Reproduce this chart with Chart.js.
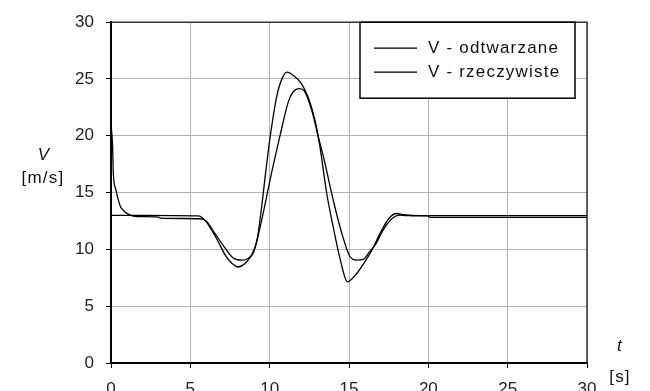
<!DOCTYPE html>
<html>
<head>
<meta charset="utf-8">
<script src="https://cdn.jsdelivr.net/npm/chart.js@4/dist/chart.umd.min.js"></script>
<style>
  html, body { margin: 0; padding: 0; background: #fff; }
  #wrap { width: 650px; height: 391px; }
</style>
</head>
<body>
<div id="wrap"><canvas id="speedChart" width="650" height="391"></canvas></div>
<script>
// V - odtwarzane (reconstructed speed)
const tOdtw = [0, 0.03, 0.1, 0.15, 0.3, 0.45, 0.6, 0.8, 1.0, 1.4, 2.0, 3.0, 3.1, 4.5, 5.6, 6.0, 6.55, 7.2, 7.7, 8.25, 8.65, 9.0, 9.5, 10.1, 10.65, 11.2, 11.5, 11.85, 12.15, 12.65, 13.05, 13.45, 13.8, 14.1, 14.55, 15.05, 15.5, 15.9, 16.3, 16.65, 17.15, 17.7, 18.2, 18.6, 20.0, 20.1, 30];
const vOdtw = [0, 20.6, 19.0, 16.6, 15.3, 14.4, 13.75, 13.4, 13.17, 12.93, 12.88, 12.85, 12.75, 12.72, 12.7, 12.5, 11.4, 10.1, 9.25, 9.05, 9.2, 9.8, 12.6, 16.6, 20.0, 23.1, 23.9, 24.15, 24.0, 22.25, 20.0, 17.8, 15.6, 13.8, 11.4, 9.4, 9.06, 9.12, 9.8, 10.4, 11.7, 12.7, 13.02, 12.98, 12.95, 12.82, 12.82];

// V - rzeczywiste (actual speed)
const tRzecz = [0, 2, 5.5, 5.9, 6.35, 6.75, 7.2, 7.6, 8.0, 8.45, 8.85, 9.2, 9.5, 9.75, 10.0, 10.45, 10.8, 11.1, 11.5, 12.0, 12.45, 12.85, 13.15, 13.6, 14.0, 14.45, 14.9, 15.5, 16.0, 16.45, 16.95, 17.5, 18.0, 18.45, 19.5, 30];
const vRzecz = [13.0, 13.0, 12.95, 12.6, 11.7, 10.7, 9.5, 8.8, 8.45, 8.75, 9.5, 10.8, 13.8, 16.8, 19.6, 23.5, 25.1, 25.6, 25.3, 24.6, 23.3, 21.4, 19.2, 14.9, 12.0, 9.1, 7.15, 7.9, 8.9, 9.95, 11.4, 12.7, 13.16, 13.05, 12.97, 12.97];

const labels = ["V - odtwarzane", "V - rzeczywiste"];
const axisMin = 0;
const axisMax = 30;
const axisStep = 5;

const toPoints = (ts, vs) => ts.map((t, i) => ({ x: t, y: vs[i] }));

// legend box, axis titles and the plot frame are drawn by hand
const extras = {
    id: "extras",
    afterDraw(chart) {
        const ctx = chart.ctx;
        const area = chart.chartArea;
        ctx.save();

        // top + right frame
        ctx.strokeStyle = "#333";
        ctx.lineWidth = 1.5;
        ctx.beginPath();
        ctx.moveTo(area.left, area.top);
        ctx.lineTo(area.right, area.top);
        ctx.lineTo(area.right, area.bottom);
        ctx.stroke();

        // legend
        const bx = 360, by = area.top, bw = 215, bh = 76;
        ctx.fillStyle = "#fff";
        ctx.fillRect(bx, by, bw, bh);
        ctx.strokeStyle = "#000";
        ctx.lineWidth = 1.5;
        ctx.strokeRect(bx, by, bw, bh);
        ctx.font = "17px 'Liberation Sans', Arial, sans-serif";
        ctx.letterSpacing = "1.2px";
        ctx.textBaseline = "middle";
        ctx.fillStyle = "#111";
        chart.data.datasets.forEach((ds, i) => {
            const y = by + 26 + i * 24;
            ctx.strokeStyle = "#000";
            ctx.lineWidth = 1.2;
            ctx.beginPath();
            ctx.moveTo(bx + 14, y);
            ctx.lineTo(bx + 57, y);
            ctx.stroke();
            ctx.fillText(ds.label, bx + 68, y);
        });

        // axis titles
        ctx.textAlign = "center";
        ctx.font = "italic 17px 'Liberation Sans', Arial, sans-serif";
        ctx.fillText("V", 44, 155);
        ctx.fillText("t", 620, 346);
        ctx.font = "17px 'Liberation Sans', Arial, sans-serif";
        ctx.fillText("[m/s]", 43, 178);
        ctx.fillText("[s]", 620, 377);
        ctx.restore();
    }
};

const tickFont = { family: "'Liberation Sans', Arial, sans-serif", size: 17 };

new Chart(document.getElementById("speedChart"), {
    type: "line",
    data: {
        datasets: [
            {
                label: labels[0],
                data: toPoints(tOdtw, vOdtw),
                borderColor: "#000",
                borderWidth: 1.3,
                pointRadius: 0,
                cubicInterpolationMode: "monotone",
                fill: false,
            },
            {
                label: labels[1],
                data: toPoints(tRzecz, vRzecz),
                borderColor: "#000",
                borderWidth: 1.3,
                pointRadius: 0,
                cubicInterpolationMode: "monotone",
                fill: false,
            },
        ],
    },
    options: {
        responsive: false,
        animation: false,
        layout: { padding: { top: 22, right: 63, left: 0, bottom: 0 } },
        plugins: {
            legend: { display: false },
            tooltip: { enabled: false },
        },
        scales: {
            x: {
                type: "linear",
                min: axisMin,
                max: axisMax,
                afterFit: (scale) => { scale.height = 28; },
                ticks: { stepSize: axisStep, color: "#222", font: tickFont, padding: 11, maxRotation: 0 },
                grid: { color: "#b4b4b4", lineWidth: 1, tickLength: 5, tickColor: "#000" },
                border: { color: "#000", width: 2 },
            },
            y: {
                min: axisMin,
                max: axisMax,
                afterFit: (scale) => { scale.width = 111; },
                ticks: { stepSize: axisStep, color: "#222", font: tickFont, padding: 12 },
                grid: { color: "#b4b4b4", lineWidth: 1, tickLength: 5, tickColor: "#000" },
                border: { color: "#000", width: 2 },
            },
        },
    },
    plugins: [extras],
});
</script>
</body>
</html>
